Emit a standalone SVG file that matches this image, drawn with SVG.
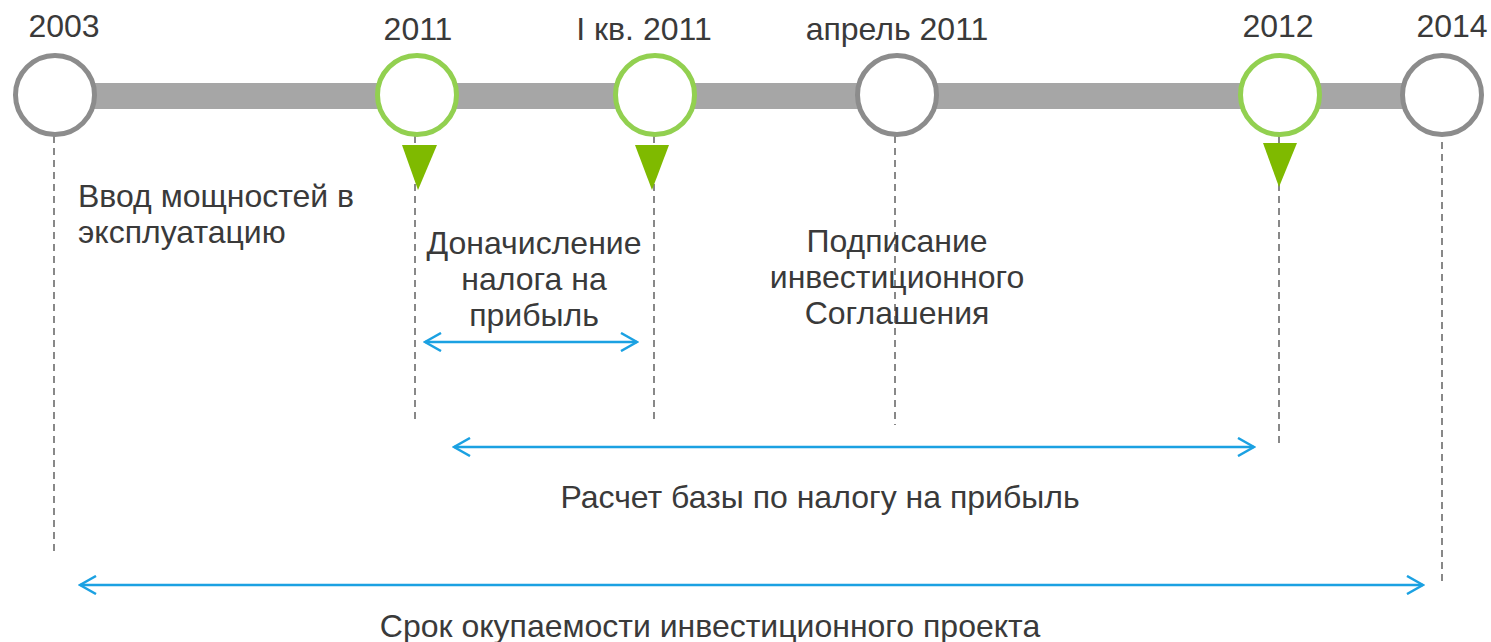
<svg xmlns="http://www.w3.org/2000/svg" width="1491" height="642" viewBox="0 0 1491 642">
<style>
text{font-family:"Liberation Sans",Arial,sans-serif;font-size:32px;fill:#3a3a3a}
.c{text-anchor:middle}
.gray{fill:#fff;stroke:#8c8c8c;stroke-width:5}
.green{fill:#fff;stroke:#92d050;stroke-width:5}
.tri{fill:#7fba00}
.dash{stroke:#888;stroke-width:2;stroke-dasharray:7 5;fill:none}
.arr{stroke:#1ba1e2;stroke-width:2.5;fill:none;marker-start:url(#ah);marker-end:url(#ah)}
</style>
<defs>
<marker id="ah" viewBox="0 0 20 20" refX="18" refY="10" markerWidth="20" markerHeight="20" markerUnits="userSpaceOnUse" orient="auto-start-reverse">
<path d="M2,1 L18,10 L2,19" fill="none" stroke="#1ba1e2" stroke-width="2.5"/>
</marker>
</defs>
<rect x="55" y="83" width="1387" height="26" fill="#a6a6a6"/>
<g id="connectors">
<line class="dash" x1="54" y1="136" x2="54" y2="552"/>
<line class="dash" x1="415" y1="136" x2="415" y2="420"/>
<line class="dash" x1="654" y1="136" x2="654" y2="420"/>
<line class="dash" x1="895" y1="136" x2="895" y2="425"/>
<line class="dash" x1="1279" y1="136" x2="1279" y2="448"/>
<line class="dash" x1="1442" y1="142" x2="1442" y2="586"/>
<line class="arr" x1="425" y1="342" x2="637" y2="342"/>
<line class="arr" x1="454" y1="447" x2="1254" y2="447"/>
<line class="arr" x1="80" y1="585" x2="1423" y2="585"/>
</g>
<g id="n2003"><circle class="gray" cx="55" cy="95" r="39.5"/><text class="c" x="64" y="37">2003</text></g>
<g id="n2011"><circle class="green" cx="417" cy="95" r="39.5"/><polygon class="tri" points="402,145 437,145 418,190"/><text class="c" x="418" y="40">2011</text></g>
<g id="nq1"><circle class="green" cx="655" cy="95" r="39.5"/><polygon class="tri" points="635,145 669,145 652,190"/><text class="c" x="644" y="40">I кв. 2011</text></g>
<g id="napr"><circle class="gray" cx="897" cy="95" r="39.5"/><text class="c" x="897" y="40">апрель 2011</text></g>
<g id="n2012"><circle class="green" cx="1280" cy="95" r="39.5"/><polygon class="tri" points="1263,143 1297,143 1279,187"/><text class="c" x="1278" y="37">2012</text></g>
<g id="n2014"><circle class="gray" cx="1442" cy="95" r="39.5"/><text class="c" x="1452" y="37">2014</text></g>
<g id="labels">
<text x="78" y="207">Ввод мощностей в</text>
<text x="78" y="243">эксплуатацию</text>
<text class="c" x="534" y="254">Доначисление</text>
<text class="c" x="534" y="290">налога на</text>
<text class="c" x="534" y="326">прибыль</text>
<text class="c" x="897" y="252">Подписание</text>
<text class="c" x="897" y="288">инвестиционного</text>
<text class="c" x="897" y="324">Соглашения</text>
<text class="c" x="820" y="508">Расчет базы по налогу на прибыль</text>
<text class="c" x="710" y="637">Срок окупаемости инвестиционного проекта</text>
</g>
</svg>
